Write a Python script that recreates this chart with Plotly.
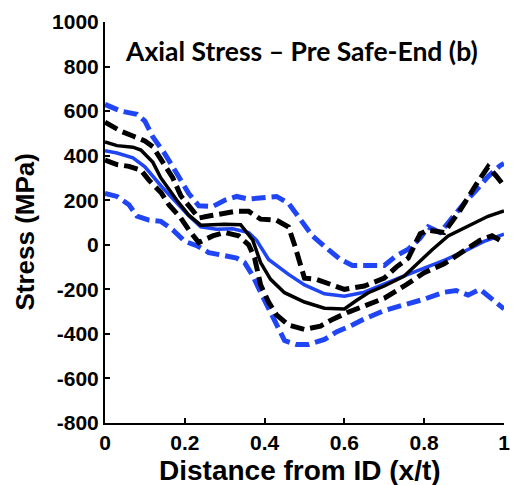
import plotly.graph_objects as go

# ---- data ----
x_mean_blue = [0, 0.03, 0.07, 0.1, 0.14, 0.18, 0.21, 0.24, 0.28, 0.32, 0.36, 0.38, 0.41, 0.46, 0.5, 0.55, 0.6, 0.65, 0.7, 0.75, 0.8, 0.85, 0.9, 0.95, 1.0]
y_mean_blue = [422, 412, 390, 350, 265, 186, 130, 80, 70, 72, 55, 20, -66, -133, -180, -220, -231, -213, -175, -140, -105, -70, -30, 15, 48]

x_mean_black = [0, 0.03, 0.07, 0.09, 0.12, 0.14, 0.18, 0.21, 0.24, 0.27, 0.3, 0.34, 0.37, 0.39, 0.415, 0.45, 0.5, 0.55, 0.6, 0.63, 0.66, 0.7, 0.75, 0.78, 0.82, 0.86, 0.9, 0.93, 0.96, 0.98, 1.0]
y_mean_black = [462, 445, 438, 425, 370, 300, 200, 133, 88, 90, 92, 90, 22, -80, -155, -215, -257, -285, -288, -250, -215, -185, -140, -90, -22, 40, 75, 100, 128, 140, 152]

x_upper_black = [0, 0.04, 0.07, 0.1, 0.12, 0.14, 0.17, 0.19, 0.22, 0.235, 0.26, 0.3, 0.33, 0.36, 0.39, 0.43, 0.46, 0.475, 0.49, 0.5, 0.53, 0.57, 0.6, 0.65, 0.7, 0.73, 0.76, 0.79, 0.81, 0.85, 0.89, 0.93, 0.96, 0.98, 1.0]
y_upper_black = [550, 510, 488, 466, 440, 380, 300, 220, 150, 120, 129, 142, 151, 150, 115, 110, 80, 0, -90, -150, -155, -180, -200, -185, -150, -100, -60, 50, 65, 55, 155, 270, 350, 310, 265]

x_lower_black = [0, 0.03, 0.06, 0.09, 0.11, 0.14, 0.16, 0.19, 0.21, 0.235, 0.27, 0.3, 0.335, 0.36, 0.375, 0.39, 0.41, 0.43, 0.46, 0.5, 0.54, 0.57, 0.61, 0.65, 0.7, 0.75, 0.8, 0.85, 0.9, 0.94, 0.97, 1.0]
y_lower_black = [380, 360, 352, 335, 290, 235, 180, 120, 67, 10, 40, 55, 40, 0, -60, -180, -257, -315, -360, -380, -365, -335, -302, -275, -240, -185, -125, -85, -25, 20, 40, 10]

x_upper_blue = [0, 0.04, 0.08, 0.1, 0.12, 0.15, 0.18, 0.21, 0.235, 0.27, 0.3, 0.33, 0.36, 0.39, 0.43, 0.46, 0.49, 0.52, 0.56, 0.59, 0.62, 0.66, 0.7, 0.73, 0.76, 0.79, 0.81, 0.84, 0.87, 0.9, 0.93, 0.96, 0.99, 1.0]
y_upper_blue = [630, 600, 586, 555, 484, 408, 320, 230, 175, 172, 200, 217, 205, 209, 217, 186, 111, 40, -22, -66, -93, -93, -93, -49, -20, 30, 80, 55, 125, 186, 244, 306, 355, 365]

x_lower_blue = [0, 0.03, 0.06, 0.08, 0.11, 0.14, 0.17, 0.2, 0.23, 0.26, 0.3, 0.33, 0.35, 0.37, 0.39, 0.41, 0.43, 0.45, 0.48, 0.51, 0.55, 0.58, 0.62, 0.65, 0.7, 0.75, 0.8, 0.85, 0.88, 0.91, 0.94, 0.97, 1.0]
y_lower_blue = [231, 217, 180, 129, 111, 105, 67, 15, -4, -35, -49, -60, -80, -138, -213, -288, -360, -430, -448, -448, -425, -391, -360, -333, -295, -270, -244, -213, -205, -226, -200, -244, -288]

x_tick_vals = [0, 0.2, 0.4, 0.6, 0.8, 1]
x_tick_text = ["0", "0.2", "0.4", "0.6", "0.8", "1"]
y_tick_vals = [-800, -600, -400, -200, 0, 200, 400, 600, 800, 1000]
y_tick_text = ["-800", "-600", "-400", "-200", "0", "200", "400", "600", "800", "1000"]

title_text = "Axial Stress – Pre Safe-End (b)"
x_title = "Distance from ID (x/t)"
y_title = "Stress (MPa)"

BLUE = "#1f45f5"
BLACK = "#000000"
DASH = "14px,6px"
SANS = "Arial, Liberation Sans, sans-serif"

fig = go.Figure()
series = [
    (x_upper_blue, y_upper_blue, BLUE, DASH, 5),
    (x_lower_blue, y_lower_blue, BLUE, DASH, 5),
    (x_mean_blue, y_mean_blue, BLUE, "solid", 3.5),
    (x_upper_black, y_upper_black, BLACK, DASH, 5),
    (x_lower_black, y_lower_black, BLACK, DASH, 5),
    (x_mean_black, y_mean_black, BLACK, "solid", 3.5),
]
for xs, ys, col, dash, w in series:
    fig.add_trace(go.Scatter(x=xs, y=ys, mode="lines",
                             line=dict(color=col, width=w, dash=dash),
                             showlegend=False, hoverinfo="skip"))

tick_font = dict(family=SANS, size=21, color="black", weight="bold")

fig.update_layout(
    width=520, height=485,
    margin=dict(l=105, r=10, t=17, b=62),
    paper_bgcolor="white", plot_bgcolor="white",
    xaxis=dict(range=[0, 1], tickvals=x_tick_vals, ticktext=x_tick_text,
               showgrid=False, zeroline=False, showline=True, linecolor="black", linewidth=2,
               ticks="inside", ticklen=5, tickwidth=2, tickcolor="black", tickfont=tick_font),
    yaxis=dict(range=[-800, 1000], tickvals=y_tick_vals, ticktext=y_tick_text,
               showgrid=False, zeroline=False, showline=True, linecolor="black", linewidth=2,
               ticks="inside", ticklen=5, tickwidth=2, tickcolor="black", tickfont=tick_font),
    annotations=[
        dict(text=title_text, xref="paper", yref="paper", x=0.045, y=0.972,
             xanchor="left", yanchor="top", showarrow=False,
             font=dict(family="Lato, Open Sans, sans-serif", size=26.5, color="black", weight="bold")),
        dict(text=x_title, xref="paper", yref="paper", x=0.489, y=-0.075,
             xanchor="center", yanchor="top", showarrow=False,
             font=dict(family=SANS, size=28, color="black", weight="bold")),
        dict(text=y_title, xref="paper", yref="paper", x=-0.2, y=0.478,
             xanchor="center", yanchor="middle", showarrow=False, textangle=-90,
             font=dict(family=SANS, size=26, color="black", weight="bold")),
    ],
)

fig.write_html("out.html")
